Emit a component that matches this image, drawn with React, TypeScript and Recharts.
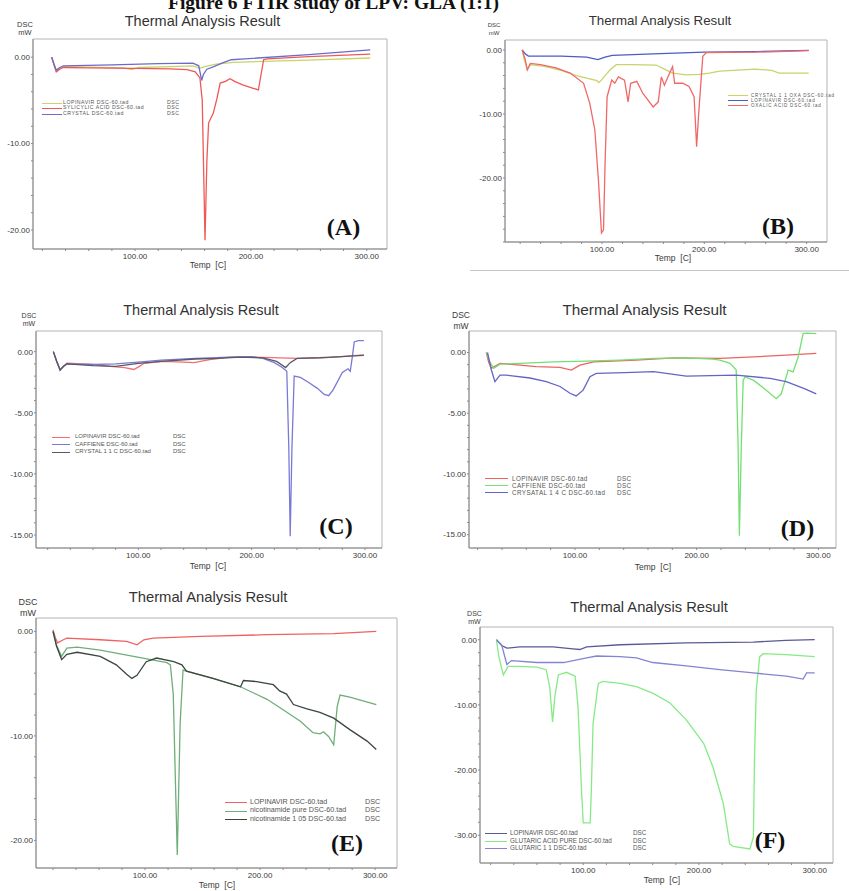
import React from 'react';
import { LineChart, Line, XAxis, YAxis, ReferenceArea, Legend } from 'recharts';

type Pt = [number, number];

const FONT = '"Liberation Sans", Arial, sans-serif';
const SERIF = '"Liberation Serif", "Times New Roman", serif';

// temperature (C) / heat flow (mW)

// (A) salicylic acid
const A_LOPINAVIR: Pt[] = [[28, 0], [30, -0.8], [32, -1.6], [35, -1.3], [38, -1.1], [60, -1.15], [90, -1.25], [97, -1.45], [103, -1.2], [130, -1.1], [150, -1.0], [156, -1.3], [160, -1.1], [170, -0.8], [185, -0.6], [210, -0.5], [250, -0.35], [303, -0.1]];
const A_SALICYLIC: Pt[] = [[28, 0], [30, -0.9], [32, -1.7], [35, -1.4], [38, -1.2], [60, -1.25], [100, -1.3], [130, -1.35], [145, -1.45], [152, -1.7], [156, -2.4], [158, -5], [160.4, -21.2], [162, -12], [163.5, -7.6], [167.5, -6.5], [170.5, -4.9], [173.5, -3.0], [178, -2.8], [182, -2.5], [186, -2.8], [193, -3.2], [202, -3.6], [206.5, -3.8], [208, -2.6], [211, -0.3], [214, -0.2], [250, 0.05], [303, 0.35]];
const A_CRYSTAL: Pt[] = [[28, 0], [30, -0.8], [32, -1.5], [35, -1.2], [38, -1.0], [80, -0.9], [120, -0.75], [150, -0.7], [155, -1.0], [157.5, -2.7], [159, -2.0], [162, -1.4], [168, -1.1], [175, -0.7], [183, -0.3], [195, -0.2], [250, 0.3], [303, 0.85]];

// (B) oxalic acid
const B_CRYSTAL: Pt[] = [[22, 0], [24, -1.5], [27, -3.1], [30, -2.3], [45, -2.6], [60, -3.2], [75, -4.0], [88, -4.5], [95, -4.8], [97, -5.1], [100, -4.6], [104, -3.8], [108, -3.1], [114, -2.3], [130, -2.3], [153, -2.35], [160, -2.9], [169, -3.6], [182, -3.9], [195, -3.8], [205, -3.6], [215, -3.3], [250, -3.0], [266, -3.2], [273, -3.6], [302, -3.6]];
const B_LOPINAVIR: Pt[] = [[22, 0], [25, -0.6], [28, -0.95], [60, -0.95], [85, -1.1], [96, -1.5], [103, -1.1], [110, -0.85], [150, -0.6], [200, -0.35], [250, -0.25], [302, -0.05]];
const B_OXALIC: Pt[] = [[22, 0], [25, -1.5], [27, -3.1], [30, -2.1], [40, -2.3], [55, -2.8], [69, -3.6], [82, -5.2], [88, -8.3], [93, -12.5], [96.5, -20.3], [99.5, -28.6], [101.5, -28.1], [103, -17.7], [105, -7.3], [109.5, -4.7], [112.5, -5.2], [116, -4.2], [122, -4.7], [125.5, -8.1], [128, -5.2], [134, -4.9], [140, -6.8], [150, -8.9], [155, -8.1], [158, -4.2], [161, -5.5], [164.5, -4.2], [169, -2.6], [171, -5.2], [179, -5.2], [185, -5.7], [190, -7.3], [192.5, -15.1], [194.5, -9.9], [198.5, -1.0], [202, -0.4], [250, -0.35], [302, -0.1]];

// (C) caffeine 1:1
const C_LOPINAVIR: Pt[] = [[25, 0], [28, -0.8], [31, -1.5], [34, -1.2], [37, -0.95], [60, -1.05], [75, -1.2], [88, -1.3], [96, -1.46], [101, -1.2], [105, -0.95], [122, -0.8], [140, -0.85], [149, -0.9], [163, -0.65], [181, -0.45], [210, -0.46], [240, -0.55], [269, -0.46], [299, -0.27]];
const C_CAFFIENE: Pt[] = [[25, 0], [28, -0.8], [31, -1.5], [34, -1.2], [37, -1.0], [60, -1.05], [80, -1.0], [100, -0.85], [120, -0.7], [150, -0.55], [180, -0.45], [200, -0.4], [210, -0.55], [220, -0.9], [227, -1.3], [231, -1.6], [232.8, -8], [234, -15.1], [235.5, -8], [237.5, -2.0], [243, -2.1], [250, -2.5], [258, -3.0], [264, -3.5], [268, -3.6], [272, -3.1], [280, -1.7], [285, -1.4], [287, -1.6], [289, -0.3], [290.5, 0.8], [294, 0.9], [299, 0.9]];
const C_CRYSTAL: Pt[] = [[25, 0], [28, -0.8], [31, -1.5], [34, -1.2], [37, -1.0], [60, -1.15], [80, -1.2], [100, -0.95], [120, -0.8], [150, -0.6], [170, -0.55], [190, -0.45], [210, -0.5], [222, -0.8], [230, -1.3], [234, -0.9], [240, -0.55], [260, -0.5], [280, -0.4], [290, -0.35], [299, -0.3]];

// (D) caffeine 1:4
const D_LOPINAVIR: Pt[] = [[27.1, 0], [29.1, -0.8], [31.2, -1.3], [38.4, -0.9], [54.8, -1.04], [68.1, -1.17], [87.7, -1.23], [96.9, -1.45], [104.1, -1.04], [115.4, -0.77], [150.3, -0.63], [181.2, -0.44], [219.2, -0.49], [246.9, -0.36], [273.6, -0.22], [298.3, -0.08]];
const D_CAFFIENE: Pt[] = [[27.1, 0], [30.1, -0.8], [33.2, -1.3], [38.4, -0.96], [54.8, -0.9], [82.5, -0.77], [109.2, -0.71], [137, -0.63], [164.7, -0.49], [191.4, -0.44], [213, -0.55], [219.2, -0.63], [227.4, -0.9], [232.5, -1.45], [234.1, -8], [235.1, -15.1], [236.6, -8], [238.2, -2.3], [239.7, -2.0], [246.9, -2.3], [257.2, -3.1], [265.4, -3.8], [269.5, -3.4], [275.2, -1.45], [279.3, -1.6], [283.4, -0.36], [287.5, 1.56], [290.1, 1.6], [298.3, 1.56]];
const D_CRYSATAL: Pt[] = [[28.1, 0], [31.2, -1.4], [34.2, -2.4], [38.4, -1.86], [43.5, -1.86], [63, -2.1], [76.4, -2.4], [87.7, -2.8], [95.9, -3.36], [101, -3.58], [106.7, -3.1], [112.3, -2.0], [117.5, -1.72], [141.1, -1.65], [164.7, -1.58], [191.4, -1.94], [232.5, -1.86], [260.3, -2.13], [273.6, -2.4], [288, -2.95], [298.3, -3.4]];

// (E) nicotinamide
const E_LOPINAVIR: Pt[] = [[20, 0.15], [22, -0.6], [24, -1.1], [29, -0.8], [32, -0.64], [61, -0.8], [84, -0.96], [93, -1.28], [99, -0.8], [107, -0.64], [148, -0.48], [206, -0.32], [264, -0.22], [301, 0]];
const E_NICO_PURE: Pt[] = [[20, 0], [23, -1.3], [27.5, -2.4], [32, -1.6], [41, -1.5], [61, -1.8], [90, -2.4], [119, -3.0], [122, -3.2], [124.5, -6], [128, -21.4], [130.5, -8.8], [133, -3.7], [136, -3.8], [159, -4.5], [183, -5.3], [206, -6.5], [220, -7.5], [235, -8.6], [246, -9.7], [252, -9.8], [255, -9.6], [259.5, -10.05], [264, -10.85], [267, -7.2], [269.5, -6.1], [278, -6.3], [301, -7.0]];
const E_NICO_CRYSTAL: Pt[] = [[20, 0], [23, -1.4], [27.5, -2.7], [32, -2.2], [41, -2.0], [61, -2.4], [75, -3.2], [84, -4.1], [88.5, -4.5], [93, -4.2], [101, -2.9], [110, -2.55], [125, -2.9], [132, -3.2], [136, -3.8], [159, -4.5], [183, -5.3], [185.5, -4.7], [197, -4.8], [211.5, -5.1], [217, -5.7], [223, -6.0], [229, -7.0], [240, -7.4], [252, -7.75], [264, -8.3], [278, -9.4], [293, -10.5], [301, -11.3]];

// (F) glutaric acid
const F_LOPINAVIR: Pt[] = [[25, 0], [29.5, -0.9], [34, -1.3], [45, -1.1], [74, -1.1], [91, -1.4], [97, -1.5], [103, -1.1], [132, -0.77], [189, -0.5], [247, -0.36], [275, -0.1], [300, 0]];
const F_GLUTARIC: Pt[] = [[25, 0], [27, -2.5], [29.5, -4.4], [31, -5.4], [35, -4.1], [45, -4.1], [60, -4.2], [68, -4.6], [71, -7.2], [73.5, -12.6], [75.5, -8.7], [78.5, -5.4], [85.5, -5.0], [93, -5.6], [95.5, -10.3], [98.5, -23.1], [100, -28.1], [106, -28.1], [107, -23.1], [108.5, -12.8], [113, -6.7], [117, -6.4], [132, -6.7], [146, -7.2], [160, -8.2], [175, -9.7], [189, -12.3], [204, -15.9], [212, -19.5], [221, -25.1], [226.5, -31.3], [229.5, -31.7], [244, -32.1], [247, -30.3], [248, -17.9], [249.5, -7.7], [252.5, -2.6], [255.5, -2.15], [275, -2.3], [300, -2.6]];
const F_GLUTARIC_11: Pt[] = [[25, 0], [29.5, -0.8], [34, -3.8], [38, -3.2], [60, -3.5], [83, -3.5], [103, -2.8], [111.5, -2.5], [132, -2.6], [146, -2.8], [160, -3.5], [189, -4.0], [218, -4.6], [247, -5.1], [275.5, -5.6], [290, -6.05], [293, -5.1], [300, -5.1]];

// axis ticks
const X_TICKS = [20, 40, 60, 80, 100, 120, 140, 160, 180, 200, 220, 240, 260, 280, 300];
const X_LABELS = [100, 200, 300];
const Y_TICKS_20 = [0, -2, -4, -6, -8, -10, -12, -14, -16, -18, -20];
const Y_LABELS_20 = [0, -10, -20];
const Y_TICKS_15 = [0, -1, -2, -3, -4, -5, -6, -7, -8, -9, -10, -11, -12, -13, -14, -15];
const Y_LABELS_15 = [0, -5, -10, -15];
const Y_TICKS_30 = [0, -2, -4, -6, -8, -10, -12, -14, -16, -18, -20, -22, -24, -26, -28, -30];
const Y_LABELS_30 = [0, -10, -20, -30];

interface Series { name: string; color: string; pts: Pt[] }
interface LegendLayout { x: number; top: number; row: number; fs: number; lineW: number; textX: number; dscX: number | null; spacing?: number }
interface PanelDef {
  letter: string;
  series: Series[];
  box: [number, number, number, number];
  xDomain: [number, number];
  yDomain: [number, number];
  yTicks: number[];
  yLabels: number[];
  title: [number, number, number];
  unit: [number, number, number, number];
  temp: [number, number];
  letterPos: [number, number];
  legend: LegendLayout;
}

const PANELS: PanelDef[] = [
  {
    letter: '(A)',
    series: [
      { name: 'LOPINAVIR DSC-60.tad', color: '#c9d36a', pts: A_LOPINAVIR },
      { name: 'SYLICYLIC ACID DSC-60.tad', color: '#f05858', pts: A_SALICYLIC },
      { name: 'CRYSTAL DSC-60.tad', color: '#6a6ccc', pts: A_CRYSTAL },
    ],
    box: [33, 39, 387, 249], xDomain: [11.9, 317.5], yDomain: [-22.2, 2.1],
    yTicks: Y_TICKS_20, yLabels: Y_LABELS_20,
    title: [202.5, 20.5, 14.5], unit: [25, 24.5, 32.5, 7.5], temp: [208, 265], letterPos: [343.5, 227],
    legend: { x: 42, top: 99.8, row: 5.7, fs: 5.2, lineW: 20, textX: 21, dscX: 125, spacing: 0.5 },
  },
  {
    letter: '(B)',
    series: [
      { name: 'CRYSTAL 1 1 OXA DSC-60.tad', color: '#c9d36a', pts: B_CRYSTAL },
      { name: 'LOPINAVIR DSC-60.tad', color: '#4c5cc0', pts: B_LOPINAVIR },
      { name: 'OXALIC ACID DSC-60.tad', color: '#f06868', pts: B_OXALIC },
    ],
    box: [505, 40, 827, 242], xDomain: [5.2, 319.9], yDomain: [-30, 1.56],
    yTicks: Y_TICKS_30, yLabels: Y_LABELS_20,
    title: [660, 20.5, 13.3], unit: [494, 25, 33, 6], temp: [673, 258], letterPos: [778, 226],
    legend: { x: 728, top: 92.5, row: 5, fs: 4.5, lineW: 20, textX: 23, dscX: null, spacing: 0.8 },
  },
  {
    letter: '(C)',
    series: [
      { name: 'LOPINAVIR DSC-60.tad', color: '#f07070', pts: C_LOPINAVIR },
      { name: 'CAFFIENE DSC-60.tad', color: '#7a7ad6', pts: C_CAFFIENE },
      { name: 'CRYSTAL 1 1 C DSC-60.tad', color: '#585866', pts: C_CRYSTAL },
    ],
    box: [36, 331, 382, 548], xDomain: [9.7, 315], yDomain: [-16.06, 1.69],
    yTicks: Y_TICKS_15, yLabels: Y_LABELS_15,
    title: [201, 310, 14.5], unit: [29, 314.5, 323, 7], temp: [208, 566], letterPos: [336, 526],
    legend: { x: 52, top: 432.8, row: 7.8, fs: 6, lineW: 18, textX: 23, dscX: 121 },
  },
  {
    letter: '(D)',
    series: [
      { name: 'LOPINAVIR DSC-60.tad', color: '#f06262', pts: D_LOPINAVIR },
      { name: 'CAFFIENE DSC-60.tad', color: '#72e072', pts: D_CAFFIENE },
      { name: 'CRYSATAL 1 4 C DSC-60.tad', color: '#6464c6', pts: D_CRYSATAL },
    ],
    box: [469, 331, 836, 548], xDomain: [12.9, 314.5], yDomain: [-16.1, 1.77],
    yTicks: Y_TICKS_15, yLabels: Y_LABELS_15,
    title: [644.5, 310, 15.3], unit: [461, 315, 326, 8.5], temp: [653, 567], letterPos: [797.5, 528],
    legend: { x: 485, top: 474.5, row: 7, fs: 6.3, lineW: 23, textX: 27, dscX: 132, spacing: 0.4 },
  },
  {
    letter: '(E)',
    series: [
      { name: 'LOPINAVIR DSC-60.tad', color: '#f06262', pts: E_LOPINAVIR },
      { name: 'nicotinamide pure DSC-60.tad', color: '#6fae78', pts: E_NICO_PURE },
      { name: 'nicotinamide 1 05 DSC-60.tad', color: '#3c4640', pts: E_NICO_CRYSTAL },
    ],
    box: [36, 618, 397, 868], xDomain: [5.2, 319], yDomain: [-22.64, 1.28],
    yTicks: Y_TICKS_20, yLabels: Y_LABELS_20,
    title: [208, 597, 14.8], unit: [28, 602, 613, 9], temp: [217, 885], letterPos: [347, 843],
    legend: { x: 225, top: 797.8, row: 8.5, fs: 7.2, lineW: 22, textX: 25, dscX: 140 },
  },
  {
    letter: '(F)',
    series: [
      { name: 'LOPINAVIR DSC-60.tad', color: '#5a5a94', pts: F_LOPINAVIR },
      { name: 'GLUTARIC ACID PURE DSC-60.tad', color: '#86ea86', pts: F_GLUTARIC },
      { name: 'GLUTARIC 1  1 DSC-60.tad', color: '#8484d4', pts: F_GLUTARIC_11 },
    ],
    box: [480, 627, 833, 863], xDomain: [10.8, 315.8], yDomain: [-34.26, 1.95],
    yTicks: Y_TICKS_30, yLabels: Y_LABELS_30,
    title: [649, 607, 14.7], unit: [474.5, 612.5, 621, 7], temp: [662, 880], letterPos: [770, 840],
    legend: { x: 485, top: 829.3, row: 7.5, fs: 6.3, lineW: 22, textX: 25, dscX: 148 },
  },
];

const toRows = (pts: Pt[]) => pts.map(([t, v]) => ({ t, v }));

const Txt = ({ x, y, size, children, bold, font, color }: { x: number; y: number; size: number; children: React.ReactNode; bold?: boolean; font?: string; color?: string }) => (
  <div style={{ position: 'absolute', left: x, top: y, transform: 'translate(-50%,-50%)', whiteSpace: 'nowrap', lineHeight: 1, fontSize: size, fontFamily: font || FONT, fontWeight: bold ? 700 : 400, color: color || '#3a3a3a' }}>
    {children}
  </div>
);

const LegendBox = ({ series, lg }: { series: Series[]; lg: LegendLayout }) => (
  <div style={{ fontFamily: FONT, fontSize: lg.fs, color: '#555', letterSpacing: lg.spacing || 0 }}>
    {series.map((s) => (
      <div key={s.name} style={{ position: 'relative', height: lg.row, lineHeight: `${lg.row}px`, whiteSpace: 'nowrap' }}>
        <span style={{ position: 'absolute', left: 0, top: lg.row / 2, width: lg.lineW, borderTop: `1px solid ${s.color}` }} />
        <span style={{ position: 'absolute', left: lg.textX, top: 0 }}>{s.name}</span>
        {lg.dscX != null && <span style={{ position: 'absolute', left: lg.dscX, top: 0 }}>DSC</span>}
      </div>
    ))}
  </div>
);

const YW = 40;
const XH = 22;
const MT = 10;
const MR = 10;

const Panel = ({ p }: { p: PanelDef }) => {
  const [bl, bt, br, bb] = p.box;
  const left = bl - YW;
  const top = bt - MT;
  const w = br - bl + YW + MR;
  const h = bb - bt + MT + XH;
  const axisTick = { fontSize: 8, fill: '#3a3a3a', fontFamily: FONT };
  return (
    <>
      <div style={{ position: 'absolute', left, top }}>
        <LineChart width={w} height={h} margin={{ top: MT, right: MR, bottom: 0, left: 0 }}>
          <XAxis
            dataKey="t" type="number" domain={p.xDomain} allowDataOverflow
            ticks={X_TICKS} interval={0} height={XH} tickSize={2} tickMargin={2}
            tickFormatter={(v: number) => (X_LABELS.includes(v) ? v.toFixed(2) : '')}
            tick={axisTick} stroke="#8a8a8a"
          />
          <YAxis
            type="number" domain={p.yDomain} allowDataOverflow
            ticks={p.yTicks} interval={0} width={YW} tickSize={2} tickMargin={1}
            tickFormatter={(v: number) => (p.yLabels.includes(v) ? (v === 0 ? '0.00' : v.toFixed(2)) : '')}
            tick={axisTick} stroke="#8a8a8a"
          />
          <ReferenceArea x1={p.xDomain[0]} x2={p.xDomain[1]} y1={p.yDomain[0]} y2={p.yDomain[1]} fill="none" stroke="#b4b4b4" strokeWidth={1} />
          {p.series.map((s) => (
            <Line
              key={s.name} data={toRows(s.pts)} dataKey="v" name={s.name} type="linear"
              stroke={s.color} strokeWidth={1.3} dot={false} activeDot={false} isAnimationActive={false}
            />
          ))}
          <Legend
            layout="horizontal" verticalAlign="middle" align="center"
            wrapperStyle={{ left: p.legend.x - left, top: p.legend.top - top, width: 'auto' }}
            content={() => <LegendBox series={p.series} lg={p.legend} />}
          />
        </LineChart>
      </div>
      <Txt x={p.title[0]} y={p.title[1]} size={p.title[2]} color="#333">Thermal Analysis Result</Txt>
      <Txt x={p.unit[0]} y={p.unit[1]} size={p.unit[3]}>DSC</Txt>
      <Txt x={p.unit[0]} y={p.unit[2]} size={p.unit[3]}>mW</Txt>
      <Txt x={p.temp[0]} y={p.temp[1]} size={8.5}>Temp&nbsp;&nbsp;[C]</Txt>
      <Txt x={p.letterPos[0]} y={p.letterPos[1]} size={24} bold font={SERIF} color="#111">{p.letter}</Txt>
    </>
  );
};

export default function App() {
  return (
    <div style={{ position: 'absolute', left: 0, top: 0, width: 849, height: 891, background: '#fff', overflow: 'hidden' }}>
      <div style={{ position: 'absolute', left: 168, top: -7, fontFamily: SERIF, fontWeight: 700, fontSize: 19.5, lineHeight: 1, whiteSpace: 'nowrap', color: '#111' }}>
        Figure 6 FTIR study of LPV: GLA (1:1)
      </div>
      {PANELS.map((p) => (
        <Panel key={p.letter} p={p} />
      ))}
      <div style={{ position: 'absolute', left: 470, top: 270, width: 379, borderTop: '1px solid #c4c4c4' }} />
    </div>
  );
}
